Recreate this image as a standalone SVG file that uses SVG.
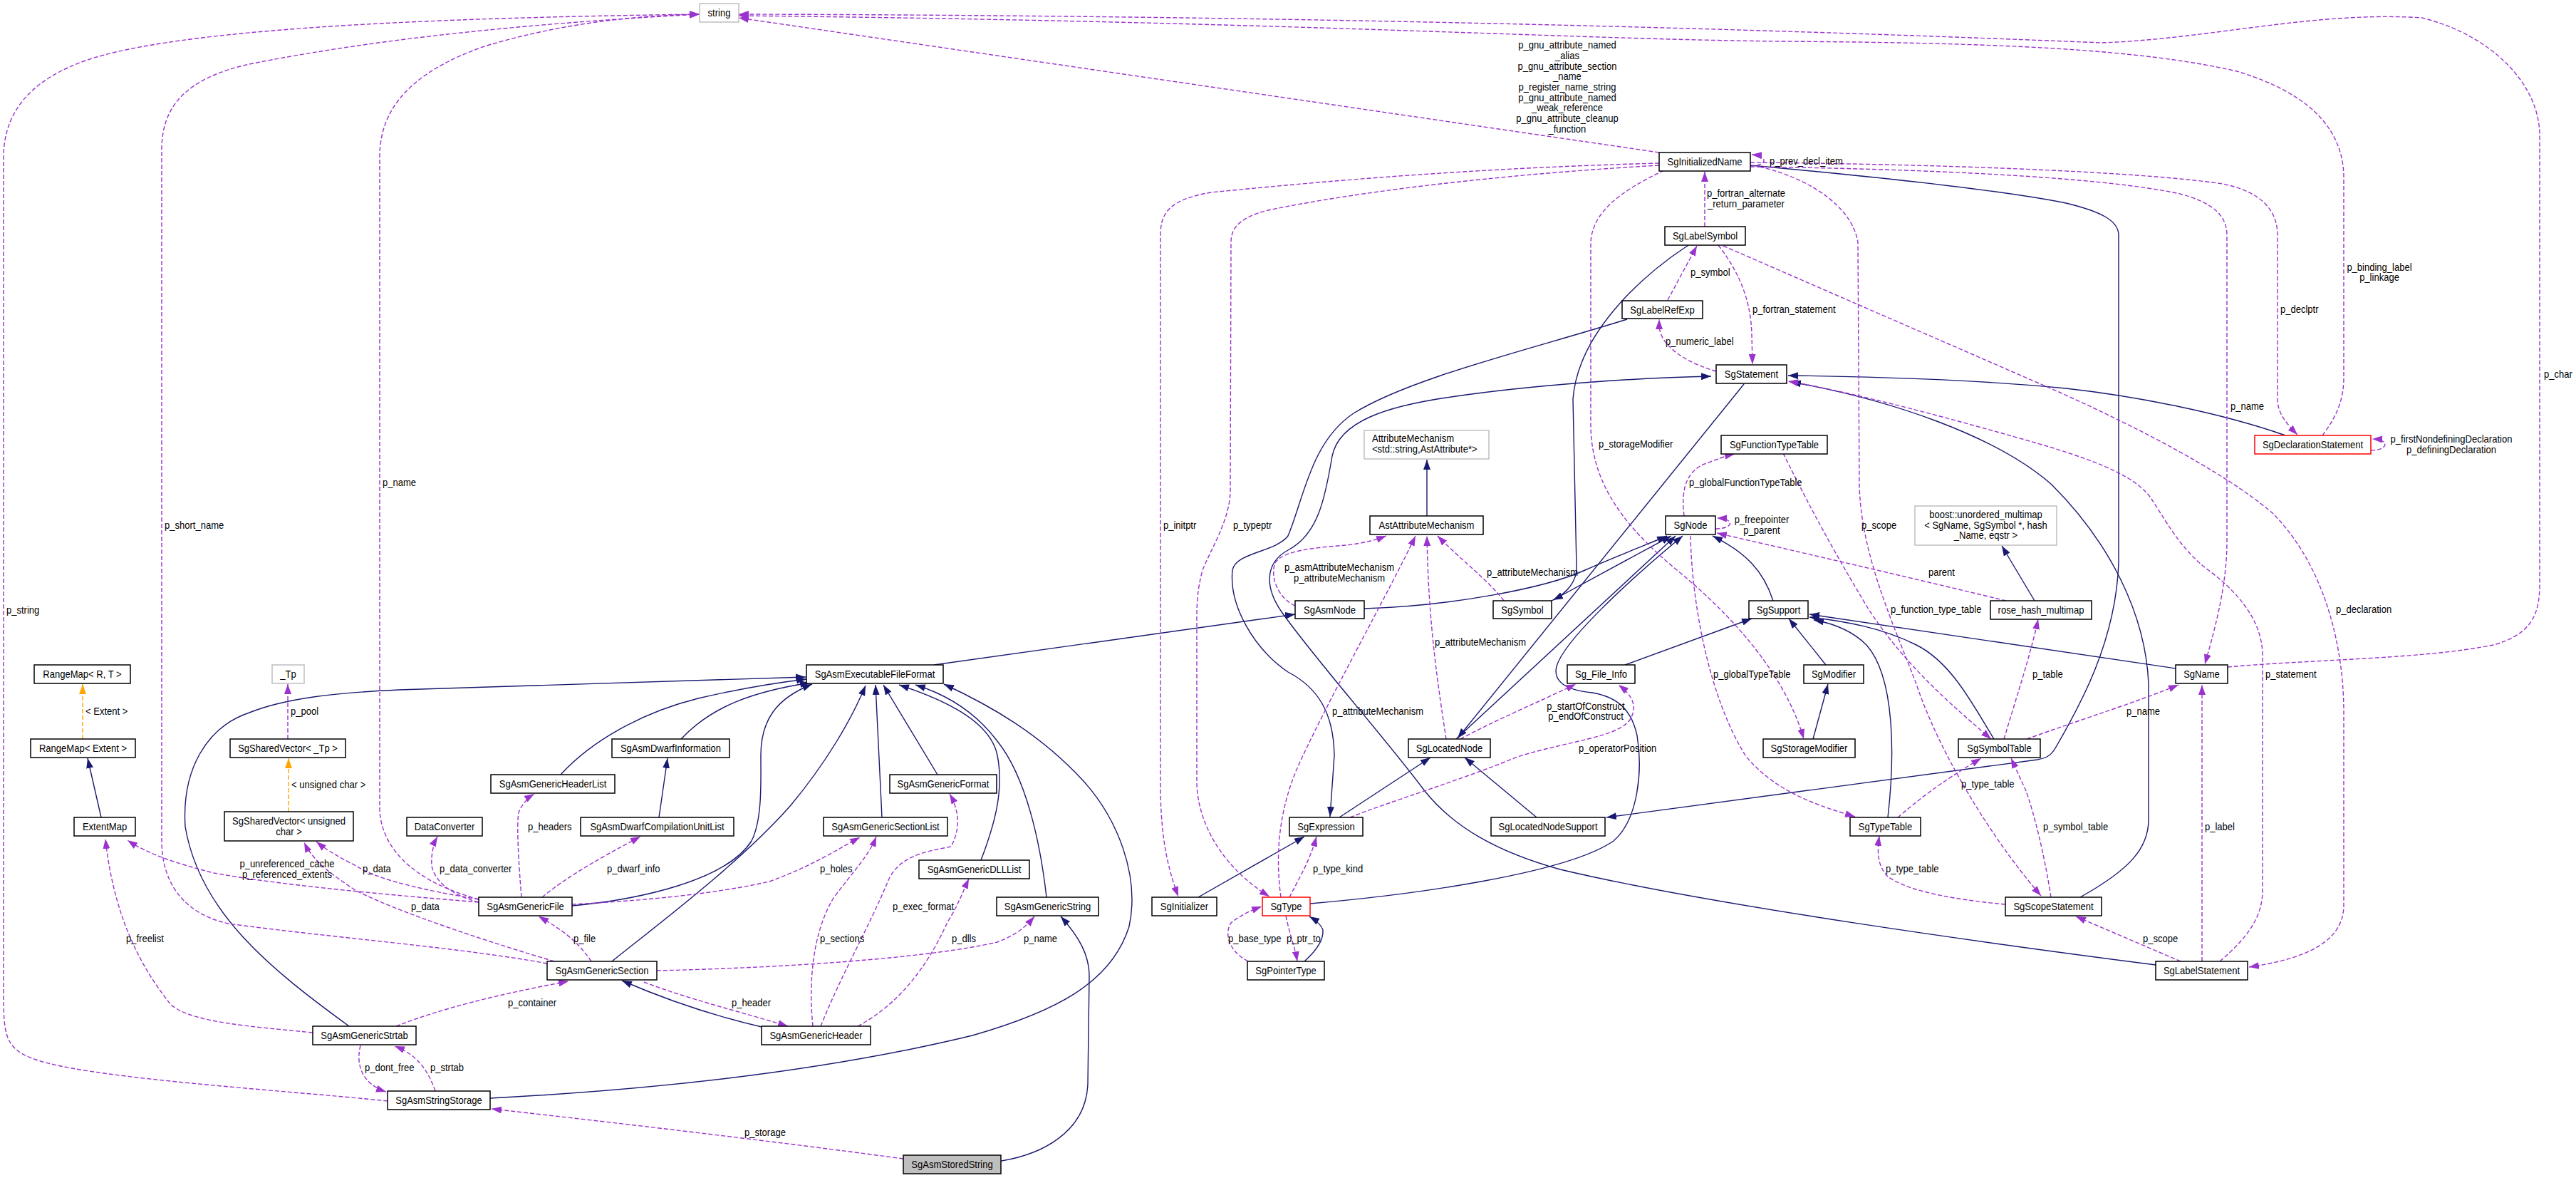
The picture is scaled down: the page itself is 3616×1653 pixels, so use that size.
<svg xmlns="http://www.w3.org/2000/svg" width="3616" height="1653" viewBox="0 0 3616 1653">
<style>
text{font-family:"Liberation Sans",Arial,sans-serif;font-size:14.8px;fill:#000;transform-box:fill-box;transform-origin:0 50%;transform:translateY(0.8px) scaleX(0.88)}
.m{text-anchor:middle;transform-origin:50% 50%}
.nd rect{fill:#fff;stroke:#000;stroke-width:1.5}
.nd.g rect{stroke:#bfbfbf}
.nd.r rect{stroke:#ff0000}
.nd.f rect{fill:#bfbfbf}
.nd text{text-anchor:middle;transform-origin:50% 50%}
.nd text.l{text-anchor:start;transform-origin:0 50%}
.i{fill:none;stroke:#191970;stroke-width:1.4;marker-end:url(#an)}
.c{fill:none;stroke:#9a32cd;stroke-width:1.4;stroke-dasharray:6,3;marker-end:url(#ap)}
.t{fill:none;stroke:#ffa500;stroke-width:1.4;stroke-dasharray:6,3;marker-end:url(#ao)}
</style>
<defs>
<marker id="an" markerUnits="userSpaceOnUse" markerWidth="14" markerHeight="10" refX="14" refY="5" orient="auto"><path d="M0,0 L14,5 L0,10 z" fill="#191970"/></marker>
<marker id="ap" markerUnits="userSpaceOnUse" markerWidth="14" markerHeight="10" refX="14" refY="5" orient="auto"><path d="M0,0 L14,5 L0,10 z" fill="#9a32cd"/></marker>
<marker id="ao" markerUnits="userSpaceOnUse" markerWidth="14" markerHeight="10" refX="14" refY="5" orient="auto"><path d="M0,0 L14,5 L0,10 z" fill="#ffa500"/></marker>
</defs>
<rect width="3616" height="1653" fill="#fff"/>
<g id="edges">
<path class="i" d="M1311,933 L1818,862"/>
<path class="i" d="M1915,854 C2040,850 2170,825 2225,800 C2265,782 2310,765 2340,752"/>
<path class="i" d="M2178,843 L2346,752"/>
<path class="i" d="M2370,344 C2300,390 2215,470 2208,560 L2213,795 C2214,815 2200,832 2180,842"/>
<path class="i" d="M2044,1037 L2352,752"/>
<path class="i" d="M2448,539 L2046,1036"/>
<path class="i" d="M1839,1268 C1990,1255 2200,1225 2265,1180 C2300,1150 2306,1080 2298,1032 C2290,995 2270,978 2235,972 C2195,968 2180,955 2185,935 C2195,900 2280,820 2362,752"/>
<path class="i" d="M2489,843 C2475,800 2450,775 2404,752"/>
<path class="i" d="M2563,933 L2511,868"/>
<path class="i" d="M2545,1037 L2566,960"/>
<path class="i" d="M2281,933 L2459,868"/>
<path class="i" d="M1880,1147 L2008,1063"/>
<path class="i" d="M2157,1147 L2056,1063"/>
<path class="i" d="M2457,232 C2600,245 2800,265 2900,285 C2950,297 2974,310 2974,330 L2974,790 C2970,900 2920,990 2885,1050 C2878,1062 2870,1064 2860,1066 L2255,1147"/>
<path class="i" d="M2799,1037 C2770,990 2740,930 2690,905 C2640,880 2590,872 2540,866"/>
<path class="i" d="M3054,938 L2540,862"/>
<path class="i" d="M2650,1147 C2660,1060 2660,950 2620,905 C2600,885 2575,875 2546,870"/>
<path class="i" d="M2920,1259 C2990,1220 3016,1190 3016,1150 L3016,960 C3012,860 2960,760 2880,680 C2800,610 2650,560 2514,536"/>
<path class="i" d="M3208,611 C3120,580 3000,556 2900,545 C2780,533 2620,528 2510,527"/>
<path class="i" d="M3026,1354 C2800,1325 2400,1270 2190,1220 C2100,1195 2040,1160 2000,1110 C1940,1030 1850,930 1800,860 C1775,825 1775,790 1808,772 C1850,750 1860,700 1870,640 C1880,590 1950,570 2030,558 C2150,540 2300,530 2402,528"/>
<path class="i" d="M2284,448 C2150,490 1980,530 1900,580 C1840,620 1830,700 1808,752 C1790,775 1735,775 1730,800 C1725,850 1760,910 1808,943 C1850,965 1872,1000 1873,1060 L1867,1146"/>
<path class="i" d="M2003,724 L2003,645"/>
<path class="i" d="M2856,843 L2810,766"/>
<path class="i" d="M142,1147 L123,1064"/>
<path class="i" d="M925,1147 L937,1064"/>
<path class="i" d="M1069,1441 C1000,1425 940,1405 873,1376"/>
<path class="i" d="M1406,1629 C1460,1620 1525,1590 1527,1520 L1529,1370 C1529,1340 1515,1315 1489,1286"/>
<path class="i" d="M1831,1349 C1850,1332 1858,1318 1857,1305 C1855,1298 1848,1292 1838,1286"/>
<path class="i" d="M1682,1259 L1831,1174"/>
<path class="i" d="M688,1541 C900,1530 1150,1505 1365,1453 C1480,1420 1560,1380 1585,1300 C1600,1230 1570,1150 1520,1095 C1460,1030 1390,990 1325,960"/>
<path class="i" d="M490,1440 C380,1360 280,1280 260,1160 C255,1080 290,1020 350,1000 C400,980 470,972 560,968 L1131,950"/>
<path class="i" d="M787,1087 C830,1040 900,1000 980,980 C1040,966 1090,958 1132,953"/>
<path class="i" d="M956,1037 C1000,990 1060,970 1137,958"/>
<path class="i" d="M803,1271 C900,1262 1020,1235 1055,1180 C1070,1150 1068,1100 1068,1060 C1068,1010 1090,980 1140,960"/>
<path class="i" d="M859,1349 C920,1300 1040,1210 1110,1130 C1160,1070 1195,1010 1215,962"/>
<path class="i" d="M1238,1147 L1229,961"/>
<path class="i" d="M1316,1087 L1240,961"/>
<path class="i" d="M1377,1207 C1395,1160 1410,1110 1400,1060 C1390,1010 1320,980 1262,961"/>
<path class="i" d="M1469,1259 C1460,1180 1440,1090 1400,1040 C1370,1000 1330,975 1285,961"/>
<path class="t" d="M116,1037 L116,960"/>
<path class="t" d="M405,1139 L405,1064"/>
<path class="c" d="M404,1037 L404,960"/>
<path class="c" d="M544,1545 C400,1530 150,1515 60,1490 C10,1475 5,1460 5,1400 L5,215 C8,150 50,110 120,85 C250,40 600,25 982,20"/>
<path class="c" d="M768,1352 C650,1330 460,1315 320,1296 C250,1280 227,1230 227,1180 L227,210 C227,150 260,110 350,90 C500,60 700,35 982,20"/>
<path class="c" d="M672,1262 C610,1245 540,1210 533,1140 L533,220 C533,150 580,100 680,65 C780,35 880,22 982,20"/>
<path class="c" d="M2329,214 L1037,25"/>
<path class="c" d="M3127,936 C3250,925 3400,925 3500,905 C3555,890 3565,860 3565,820 L3565,190 C3565,120 3500,50 3400,25 C3250,15 3100,55 2950,60 C2700,50 2000,22 1037,20"/>
<path class="c" d="M3260,611 C3280,585 3290,560 3290,530 L3290,250 C3290,180 3240,130 3140,100 C3000,68 2800,60 2500,58 C2200,55 1800,30 1037,22"/>
<path class="c" d="M2457,228 C2700,230 3000,240 3120,258 C3180,270 3197,300 3197,330 L3197,560 C3197,580 3210,595 3225,610"/>
<path class="c" d="M2457,234 C2700,237 2950,248 3060,272 C3110,285 3126,305 3126,330 L3126,760 C3126,820 3110,880 3095,932"/>
<path class="c" d="M2457,233 C2480,233 2484,219 2459,217"/>
<path class="c" d="M2393,318 L2393,241"/>
<path class="c" d="M2341,421 L2382,345"/>
<path class="c" d="M2412,344 C2440,380 2458,420 2459,470 L2460,511"/>
<path class="c" d="M2409,521 C2370,510 2340,490 2332,470 C2328,460 2329,455 2329,448"/>
<path class="c" d="M2419,345 L2890,550 C2990,595 3120,660 3190,720 C3260,790 3290,900 3290,1000 L3290,1270 C3290,1320 3240,1345 3157,1357"/>
<path class="c" d="M3116,1349 C3150,1320 3176,1290 3176,1250 L3176,920 C3176,870 3140,830 3100,800 C3060,770 3040,730 3020,700 C3000,670 2950,650 2880,628 C2750,590 2600,550 2510,535"/>
<path class="c" d="M3091,1349 L3091,961"/>
<path class="c" d="M3061,1349 L2914,1286"/>
<path class="c" d="M2470,234 C2540,250 2600,290 2608,340 L2610,680 C2612,780 2660,880 2690,960 C2720,1050 2790,1170 2865,1257"/>
<path class="c" d="M2879,1259 C2870,1200 2855,1140 2844,1110 L2823,1064"/>
<path class="c" d="M2815,1269 C2750,1263 2680,1252 2650,1230 C2635,1215 2635,1195 2638,1173"/>
<path class="c" d="M2664,1147 C2690,1125 2720,1100 2781,1064"/>
<path class="c" d="M2503,636 C2530,690 2560,750 2620,850 C2670,930 2740,990 2795,1037"/>
<path class="c" d="M2813,1037 C2830,980 2850,920 2861,869"/>
<path class="c" d="M2845,1037 C2920,1010 3000,985 3058,961"/>
<path class="c" d="M2816,843 C2700,815 2550,780 2410,748"/>
<path class="c" d="M2408,742 C2433,742 2437,728 2410,727"/>
<path class="c" d="M2364,724 C2360,690 2365,665 2390,652 C2410,645 2420,640 2435,637"/>
<path class="c" d="M2373,752 C2375,850 2400,980 2450,1060 C2490,1110 2550,1130 2604,1146"/>
<path class="c" d="M2336,239 C2270,270 2235,300 2233,340 L2233,600 C2235,680 2280,740 2360,805 C2450,880 2510,960 2532,1037"/>
<path class="c" d="M1818,850 C1795,840 1782,810 1790,790 C1800,772 1850,768 1890,765 C1915,762 1930,758 1946,752"/>
<path class="c" d="M2111,843 C2090,815 2050,785 2018,752"/>
<path class="c" d="M2030,1037 C2020,970 2005,880 2003,752"/>
<path class="c" d="M1798,1259 C1790,1200 1795,1140 1820,1080 C1860,990 1950,830 1987,752"/>
<path class="c" d="M2050,1037 C2100,1010 2160,985 2212,960"/>
<path class="c" d="M1895,1147 C1950,1125 2050,1095 2130,1062 C2200,1040 2270,1035 2288,1010 C2300,990 2290,975 2272,961"/>
<path class="c" d="M1810,1259 C1822,1235 1838,1210 1848,1174"/>
<path class="c" d="M1805,1285 C1810,1310 1818,1330 1821,1349"/>
<path class="c" d="M1752,1349 C1725,1335 1718,1310 1728,1295 C1740,1285 1755,1278 1771,1272"/>
<path class="c" d="M2329,229 C2100,235 1900,250 1700,270 C1640,280 1629,300 1629,330 L1629,1110 C1630,1180 1640,1220 1654,1258"/>
<path class="c" d="M2329,232 C2100,245 1900,270 1780,295 C1740,305 1728,320 1728,340 L1727,690 C1726,730 1700,770 1688,800 C1680,830 1680,850 1680,870 L1680,1100 C1682,1160 1720,1220 1782,1258"/>
<path class="c" d="M672,1266 C550,1256 400,1243 300,1225 C250,1212 210,1200 179,1179"/>
<path class="c" d="M439,1449 C350,1440 270,1435 240,1410 C200,1360 160,1290 148,1177"/>
<path class="c" d="M672,1262 C600,1250 530,1235 500,1215 C470,1200 455,1190 444,1181"/>
<path class="c" d="M778,1349 C680,1320 560,1280 500,1250 C470,1230 440,1210 427,1182"/>
<path class="c" d="M672,1266 C630,1255 610,1235 606,1215 C605,1200 608,1185 614,1174"/>
<path class="c" d="M732,1259 C728,1210 725,1160 728,1140 C732,1130 740,1120 750,1114"/>
<path class="c" d="M761,1259 C790,1235 830,1210 899,1174"/>
<path class="c" d="M803,1269 C900,1264 1000,1255 1080,1237 C1140,1215 1170,1195 1207,1175"/>
<path class="c" d="M830,1349 C810,1320 790,1305 756,1286"/>
<path class="c" d="M556,1440 C620,1415 700,1395 798,1377"/>
<path class="c" d="M506,1467 C500,1490 505,1520 542,1532"/>
<path class="c" d="M611,1531 C600,1500 585,1480 554,1468"/>
<path class="c" d="M1268,1626 C1150,1610 950,1585 690,1556"/>
<path class="c" d="M904,1378 C960,1400 1040,1420 1106,1440"/>
<path class="c" d="M1141,1440 C1135,1380 1140,1310 1170,1260 C1200,1220 1220,1200 1230,1174"/>
<path class="c" d="M1152,1440 C1180,1370 1220,1300 1245,1240 C1260,1200 1300,1195 1335,1188 C1350,1160 1345,1135 1333,1114"/>
<path class="c" d="M1204,1440 C1260,1410 1300,1360 1330,1294 C1345,1270 1350,1255 1360,1233"/>
<path class="c" d="M922,1362 C1100,1358 1300,1345 1400,1322 C1430,1310 1440,1300 1452,1286"/>
<path class="c" d="M3328,632 C3352,632 3356,617 3330,616"/>
<text x="120" y="1002">&lt; Extent &gt;</text>
<text x="409" y="1105">&lt; unsigned char &gt;</text>
<text x="408" y="1002">p_pool</text>
<text x="9" y="860">p_string</text>
<text x="231" y="741">p_short_name</text>
<text x="537" y="681">p_name</text>
<text class="m" x="2200" y="67">p_gnu_attribute_named</text>
<text class="m" x="2200" y="82">_alias</text>
<text class="m" x="2200" y="97">p_gnu_attribute_section</text>
<text class="m" x="2200" y="111">_name</text>
<text class="m" x="2200" y="126">p_register_name_string</text>
<text class="m" x="2200" y="141">p_gnu_attribute_named</text>
<text class="m" x="2200" y="155">_weak_reference</text>
<text class="m" x="2200" y="170">p_gnu_attribute_cleanup</text>
<text class="m" x="2200" y="185">_function</text>
<text x="3571" y="529">p_char</text>
<text class="m" x="3340" y="379">p_binding_label</text>
<text class="m" x="3340" y="393">p_linkage</text>
<text x="3201" y="438">p_declptr</text>
<text x="3131" y="574">p_name</text>
<text x="2484" y="230">p_prev_decl_item</text>
<text class="m" x="2451" y="275">p_fortran_alternate</text>
<text class="m" x="2451" y="290">_return_parameter</text>
<text x="2373" y="386">p_symbol</text>
<text x="2460" y="438">p_fortran_statement</text>
<text x="2338" y="483">p_numeric_label</text>
<text x="3279" y="859">p_declaration</text>
<text x="3180" y="950">p_statement</text>
<text x="3095" y="1164">p_label</text>
<text x="3008" y="1321">p_scope</text>
<text x="2613" y="741">p_scope</text>
<text x="2868" y="1164">p_symbol_table</text>
<text x="2647" y="1223">p_type_table</text>
<text x="2753" y="1104">p_type_table</text>
<text x="2654" y="859">p_function_type_table</text>
<text x="2853" y="950">p_table</text>
<text x="2985" y="1002">p_name</text>
<text x="2707" y="807">parent</text>
<text class="m" x="2473" y="733">p_freepointer</text>
<text class="m" x="2473" y="748">p_parent</text>
<text x="2371" y="681">p_globalFunctionTypeTable</text>
<text x="2405" y="950">p_globalTypeTable</text>
<text x="2244" y="627">p_storageModifier</text>
<text class="m" x="1880" y="800">p_asmAttributeMechanism</text>
<text class="m" x="1880" y="815">p_attributeMechanism</text>
<text x="2087" y="807">p_attributeMechanism</text>
<text x="2014" y="905">p_attributeMechanism</text>
<text x="1870" y="1002">p_attributeMechanism</text>
<text class="m" x="2226" y="995">p_startOfConstruct</text>
<text class="m" x="2226" y="1009">p_endOfConstruct</text>
<text x="2216" y="1054">p_operatorPosition</text>
<text x="1843" y="1223">p_type_kind</text>
<text x="1806" y="1321">p_ptr_to</text>
<text x="1724" y="1321">p_base_type</text>
<text x="1633" y="741">p_initptr</text>
<text x="1731" y="741">p_typeptr</text>
<text class="m" x="403" y="1216">p_unreferenced_cache</text>
<text class="m" x="403" y="1231">p_referenced_extents</text>
<text x="177" y="1321">p_freelist</text>
<text x="509" y="1223">p_data</text>
<text x="577" y="1276">p_data</text>
<text x="617" y="1223">p_data_converter</text>
<text x="741" y="1164">p_headers</text>
<text x="852" y="1223">p_dwarf_info</text>
<text x="1151" y="1223">p_holes</text>
<text x="805" y="1321">p_file</text>
<text x="713" y="1411">p_container</text>
<text x="512" y="1502">p_dont_free</text>
<text x="604" y="1502">p_strtab</text>
<text x="1045" y="1593">p_storage</text>
<text x="1027" y="1411">p_header</text>
<text x="1151" y="1321">p_sections</text>
<text x="1253" y="1276">p_exec_format</text>
<text x="1336" y="1321">p_dlls</text>
<text x="1437" y="1321">p_name</text>
<text class="m" x="3441" y="620">p_firstNondefiningDeclaration</text>
<text class="m" x="3441" y="635">p_definingDeclaration</text>
</g>
<g id="n_string" class="nd g"><rect x="982" y="5" width="55" height="26"/><text x="1009.5" y="22.5">string</text></g>
<g id="n_SgInitializedName" class="nd"><rect x="2329" y="214" width="128" height="26"/><text x="2393" y="231.5">SgInitializedName</text></g>
<g id="n_SgLabelSymbol" class="nd"><rect x="2337" y="318" width="113" height="26"/><text x="2393.5" y="335.5">SgLabelSymbol</text></g>
<g id="n_SgLabelRefExp" class="nd"><rect x="2277" y="422" width="113" height="25"/><text x="2333.5" y="439">SgLabelRefExp</text></g>
<g id="n_SgStatement" class="nd"><rect x="2409" y="512" width="99" height="26"/><text x="2458.5" y="529.5">SgStatement</text></g>
<g id="n_AttributeMechanism" class="nd g"><rect x="1915" y="604" width="175" height="40"/><text class="l" x="1926" y="619.5">AttributeMechanism</text><text class="l" x="1926" y="634.5">&lt;std::string,AstAttribute*&gt;</text></g>
<g id="n_SgFunctionTypeTable" class="nd"><rect x="2416" y="611" width="149" height="26"/><text x="2490.5" y="628.5">SgFunctionTypeTable</text></g>
<g id="n_SgDeclarationStatement" class="nd r"><rect x="3165" y="611" width="163" height="26"/><text x="3246.5" y="628.5">SgDeclarationStatement</text></g>
<g id="n_AstAttributeMechanism" class="nd"><rect x="1923" y="724" width="159" height="26"/><text x="2002.5" y="741.5">AstAttributeMechanism</text></g>
<g id="n_SgNode" class="nd"><rect x="2338" y="724" width="70" height="26"/><text x="2373" y="741.5">SgNode</text></g>
<g id="n_boost_unordered_multimap" class="nd g"><rect x="2688" y="710" width="199" height="55"/><text x="2787.5" y="726">boost::unordered_multimap</text><text x="2787.5" y="741">&lt; SgName, SgSymbol *, hash</text><text x="2787.5" y="755">_Name, eqstr &gt;</text></g>
<g id="n_SgAsmNode" class="nd"><rect x="1818" y="843" width="97" height="25"/><text x="1866.5" y="860">SgAsmNode</text></g>
<g id="n_SgSymbol" class="nd"><rect x="2096" y="843" width="82" height="25"/><text x="2137" y="860">SgSymbol</text></g>
<g id="n_SgSupport" class="nd"><rect x="2455" y="843" width="83" height="25"/><text x="2496.5" y="860">SgSupport</text></g>
<g id="n_rose_hash_multimap" class="nd"><rect x="2794" y="843" width="142" height="26"/><text x="2865" y="860.5">rose_hash_multimap</text></g>
<g id="n_RangeMap_R_T" class="nd"><rect x="48" y="933" width="135" height="26"/><text x="115.5" y="950.5">RangeMap&lt; R, T &gt;</text></g>
<g id="n_Tp" class="nd g"><rect x="382" y="933" width="45" height="26"/><text x="404.5" y="950.5">_Tp</text></g>
<g id="n_SgAsmExecutableFileFormat" class="nd"><rect x="1132" y="933" width="192" height="26"/><text x="1228" y="950.5">SgAsmExecutableFileFormat</text></g>
<g id="n_Sg_File_Info" class="nd"><rect x="2200" y="933" width="95" height="26"/><text x="2247.5" y="950.5">Sg_File_Info</text></g>
<g id="n_SgModifier" class="nd"><rect x="2532" y="933" width="84" height="26"/><text x="2574" y="950.5">SgModifier</text></g>
<g id="n_SgName" class="nd"><rect x="3054" y="933" width="73" height="26"/><text x="3090.5" y="950.5">SgName</text></g>
<g id="n_RangeMap_Extent" class="nd"><rect x="43" y="1037" width="147" height="26"/><text x="116.5" y="1054.5">RangeMap&lt; Extent &gt;</text></g>
<g id="n_SgSharedVector_Tp" class="nd"><rect x="323" y="1037" width="162" height="26"/><text x="404" y="1054.5">SgSharedVector&lt; _Tp &gt;</text></g>
<g id="n_SgAsmDwarfInformation" class="nd"><rect x="859" y="1037" width="165" height="26"/><text x="941.5" y="1054.5">SgAsmDwarfInformation</text></g>
<g id="n_SgLocatedNode" class="nd"><rect x="1977" y="1037" width="115" height="26"/><text x="2034.5" y="1054.5">SgLocatedNode</text></g>
<g id="n_SgStorageModifier" class="nd"><rect x="2475" y="1037" width="129" height="26"/><text x="2539.5" y="1054.5">SgStorageModifier</text></g>
<g id="n_SgSymbolTable" class="nd"><rect x="2749" y="1037" width="115" height="26"/><text x="2806.5" y="1054.5">SgSymbolTable</text></g>
<g id="n_SgAsmGenericHeaderList" class="nd"><rect x="689" y="1087" width="174" height="26"/><text x="776" y="1104.5">SgAsmGenericHeaderList</text></g>
<g id="n_SgAsmGenericFormat" class="nd"><rect x="1249" y="1087" width="150" height="26"/><text x="1324" y="1104.5">SgAsmGenericFormat</text></g>
<g id="n_ExtentMap" class="nd"><rect x="104" y="1147" width="86" height="26"/><text x="147" y="1164.5">ExtentMap</text></g>
<g id="n_SgSharedVector_uchar" class="nd"><rect x="315" y="1139" width="181" height="41"/><text x="405.5" y="1156.5">SgSharedVector&lt; unsigned</text><text x="405.5" y="1171">char &gt;</text></g>
<g id="n_DataConverter" class="nd"><rect x="571" y="1147" width="106" height="26"/><text x="624" y="1164.5">DataConverter</text></g>
<g id="n_SgAsmDwarfCompilationUnitList" class="nd"><rect x="815" y="1147" width="215" height="26"/><text x="922.5" y="1164.5">SgAsmDwarfCompilationUnitList</text></g>
<g id="n_SgAsmGenericSectionList" class="nd"><rect x="1156" y="1147" width="174" height="26"/><text x="1243" y="1164.5">SgAsmGenericSectionList</text></g>
<g id="n_SgExpression" class="nd"><rect x="1810" y="1147" width="103" height="26"/><text x="1861.5" y="1164.5">SgExpression</text></g>
<g id="n_SgLocatedNodeSupport" class="nd"><rect x="2093" y="1147" width="160" height="26"/><text x="2173" y="1164.5">SgLocatedNodeSupport</text></g>
<g id="n_SgTypeTable" class="nd"><rect x="2597" y="1147" width="99" height="26"/><text x="2646.5" y="1164.5">SgTypeTable</text></g>
<g id="n_SgAsmGenericDLLList" class="nd"><rect x="1290" y="1207" width="155" height="26"/><text x="1367.5" y="1224.5">SgAsmGenericDLLList</text></g>
<g id="n_SgAsmGenericFile" class="nd"><rect x="672" y="1259" width="131" height="26"/><text x="737.5" y="1276.5">SgAsmGenericFile</text></g>
<g id="n_SgAsmGenericString" class="nd"><rect x="1399" y="1259" width="143" height="26"/><text x="1470.5" y="1276.5">SgAsmGenericString</text></g>
<g id="n_SgInitializer" class="nd"><rect x="1617" y="1259" width="91" height="26"/><text x="1662.5" y="1276.5">SgInitializer</text></g>
<g id="n_SgType" class="nd r"><rect x="1772" y="1259" width="67" height="26"/><text x="1805.5" y="1276.5">SgType</text></g>
<g id="n_SgScopeStatement" class="nd"><rect x="2815" y="1259" width="135" height="26"/><text x="2882.5" y="1276.5">SgScopeStatement</text></g>
<g id="n_SgAsmGenericSection" class="nd"><rect x="768" y="1349" width="154" height="26"/><text x="845" y="1366.5">SgAsmGenericSection</text></g>
<g id="n_SgPointerType" class="nd"><rect x="1751" y="1349" width="108" height="26"/><text x="1805" y="1366.5">SgPointerType</text></g>
<g id="n_SgLabelStatement" class="nd"><rect x="3026" y="1349" width="129" height="26"/><text x="3090.5" y="1366.5">SgLabelStatement</text></g>
<g id="n_SgAsmGenericStrtab" class="nd"><rect x="439" y="1440" width="145" height="26"/><text x="511.5" y="1457.5">SgAsmGenericStrtab</text></g>
<g id="n_SgAsmGenericHeader" class="nd"><rect x="1069" y="1440" width="153" height="26"/><text x="1145.5" y="1457.5">SgAsmGenericHeader</text></g>
<g id="n_SgAsmStringStorage" class="nd"><rect x="544" y="1531" width="144" height="26"/><text x="616" y="1548.5">SgAsmStringStorage</text></g>
<g id="n_SgAsmStoredString" class="nd f"><rect x="1268" y="1621" width="137" height="26"/><text x="1336.5" y="1638.5">SgAsmStoredString</text></g>
</svg>
